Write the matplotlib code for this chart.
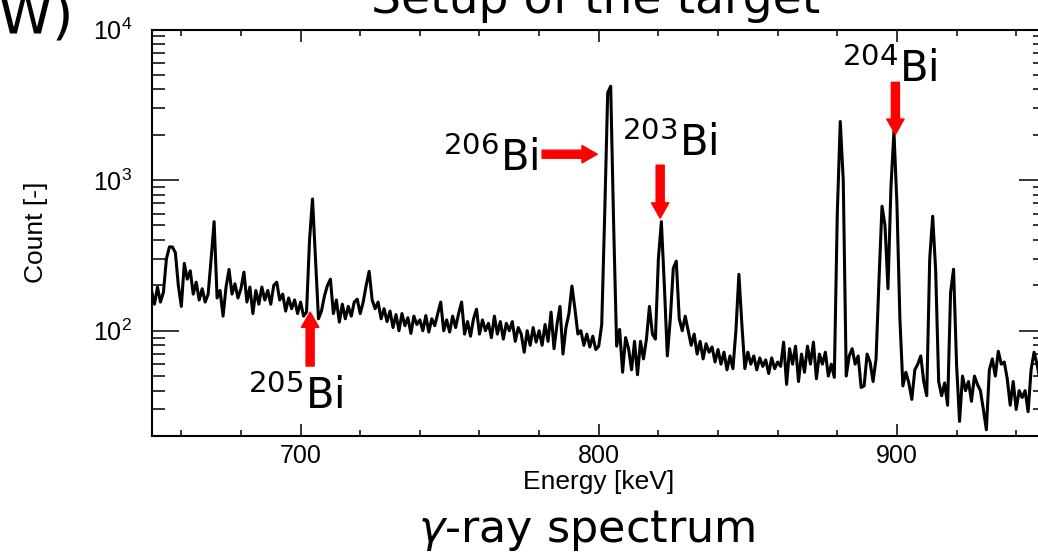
import numpy as np
import matplotlib
matplotlib.use("Agg")
import matplotlib.pyplot as plt
from matplotlib.ticker import MultipleLocator, LogLocator, NullFormatter

plt.rcParams['font.family'] = ['Liberation Sans', 'DejaVu Sans']

# spectrum, 1 keV bins from 650 to 950 keV
energy = np.arange(650, 951)
counts = [
    185, 150, 195, 155, 180, 300, 360, 360, 330, 200,
    145, 280, 220, 250, 175, 210, 160, 190, 155, 175,
    300, 530, 165, 185, 125, 195, 255, 175, 205, 165,
    190, 245, 155, 195, 130, 185, 150, 195, 160, 185,
    150, 200, 210, 160, 175, 135, 165, 140, 160, 130,
    155, 125, 133, 400, 750, 300, 120, 135, 170, 200,
    220, 130, 160, 114, 150, 120, 145, 125, 155, 162,
    130, 155, 200, 248, 160, 140, 155, 120, 140, 115,
    135, 105, 128, 100, 130, 108, 122, 96, 125, 110,
    118, 100, 126, 98, 120, 108, 130, 155, 100, 118,
    98, 125, 105, 130, 155, 95, 115, 92, 120, 139,
    95, 118, 100, 112, 90, 125, 95, 115, 88, 112,
    100, 115, 85, 105, 95, 72, 100, 80, 105, 84,
    100, 80, 110, 85, 133, 76, 110, 145, 70, 105,
    130, 198, 140, 95, 100, 80, 95, 78, 92, 75,
    79, 110, 600, 3800, 4200, 500, 79, 102, 53, 90,
    76, 55, 85, 51, 85, 65, 88, 145, 95, 88,
    300, 530, 200, 68, 120, 260, 290, 120, 100, 125,
    100, 80, 95, 70, 85, 65, 82, 72, 78, 62,
    75, 60, 72, 55, 68, 56, 100, 237, 110, 56,
    72, 60, 68, 55, 66, 58, 64, 52, 66, 56,
    62, 58, 84, 44, 76, 60, 79, 46, 70, 53,
    79, 60, 84, 48, 70, 60, 72, 50, 60, 49,
    600, 2450, 1000, 50, 68, 76, 60, 68, 42, 43,
    70, 62, 46, 65, 220, 671, 500, 190, 900, 2100,
    700, 120, 43, 53, 45, 35, 55, 60, 68, 46,
    37, 300, 576, 250, 46, 37, 45, 32, 180, 256,
    60, 25, 50, 40, 46, 34, 50, 44, 40, 30,
    22, 55, 65, 50, 73, 60, 62, 48, 32, 46,
    30, 40, 36, 40, 29, 55, 72, 60, 46, 42,
    38,
]

# isotope labels and arrows (tail -> tip, data coords)
isotopes = ["205", "206", "203", "204"]
label_pos = [(682.4, 30.3), (747.8, 1145), (807.9, 1439), (881.7, 4457)]
arrow_tail = [(703.2, 58.3), (781.0, 1486), (820.6, 1256), (899.5, 4457)]
arrow_tip = [(703.2, 133), (799.5, 1486), (820.6, 559), (899.5, 2014)]

fig = plt.figure(figsize=(10.38, 5.53), dpi=100)
ax = fig.add_axes([151.5 / 1038, 1 - 436 / 553, (1046 - 151.5) / 1038, (436 - 29.5) / 553])

ax.plot(energy, counts, color='black', lw=2.2)
ax.set_yscale('log')
ax.set_xlim(650, 950)
ax.set_ylim(20, 1e4)

ax.xaxis.set_major_locator(MultipleLocator(100))
ax.xaxis.set_minor_locator(MultipleLocator(20))
ax.yaxis.set_major_locator(LogLocator(base=10))
ax.yaxis.set_minor_locator(LogLocator(base=10, subs=np.arange(2, 10)))
ax.yaxis.set_minor_formatter(NullFormatter())

ax.tick_params(axis='both', which='both', direction='in', top=True, right=True, width=1.1, labelsize=18)
ax.tick_params(axis='x', which='major', length=8.6, pad=6)
ax.tick_params(axis='x', which='minor', length=4.3)
ax.tick_params(axis='y', which='major', length=19.4, pad=14)
ax.tick_params(axis='y', which='minor', length=9.4)
for s in ax.spines.values():
    s.set_linewidth(1.5)

ax.set_xlabel("Energy [keV]", fontsize=19, va='center')
ax.xaxis.set_label_coords(0.5, -0.113)
ax.set_ylabel("Count [-]", fontsize=19, va='center')
ax.yaxis.set_label_coords(-0.129, 0.5)

for iso, lp, tail, tip in zip(isotopes, label_pos, arrow_tail, arrow_tip):
    ax.annotate("", xy=tip, xytext=tail,
                arrowprops=dict(color='red', width=5.8, headwidth=12.5, headlength=11, shrink=0))
    ax.text(lp[0], lp[1], r"$^{%s}$Bi" % iso, fontsize=30, family='DejaVu Sans',
            ha='left', va='baseline')

# slide text around the chart (cut off at the edges, as in the source slide)
fig.text(74 / 1038, 1 - 33 / 553, "W)", fontsize=40, family='DejaVu Sans', ha='right', va='baseline')
fig.text(596 / 1038, 1 - 13 / 553, "Setup of the target", fontsize=34, family='DejaVu Sans',
         ha='center', va='baseline')
fig.text(587 / 1038, 1 - 542 / 553, r"$\gamma$-ray spectrum", fontsize=32, family='DejaVu Sans',
         ha='center', va='baseline')

fig.savefig("out.png", dpi=100)
